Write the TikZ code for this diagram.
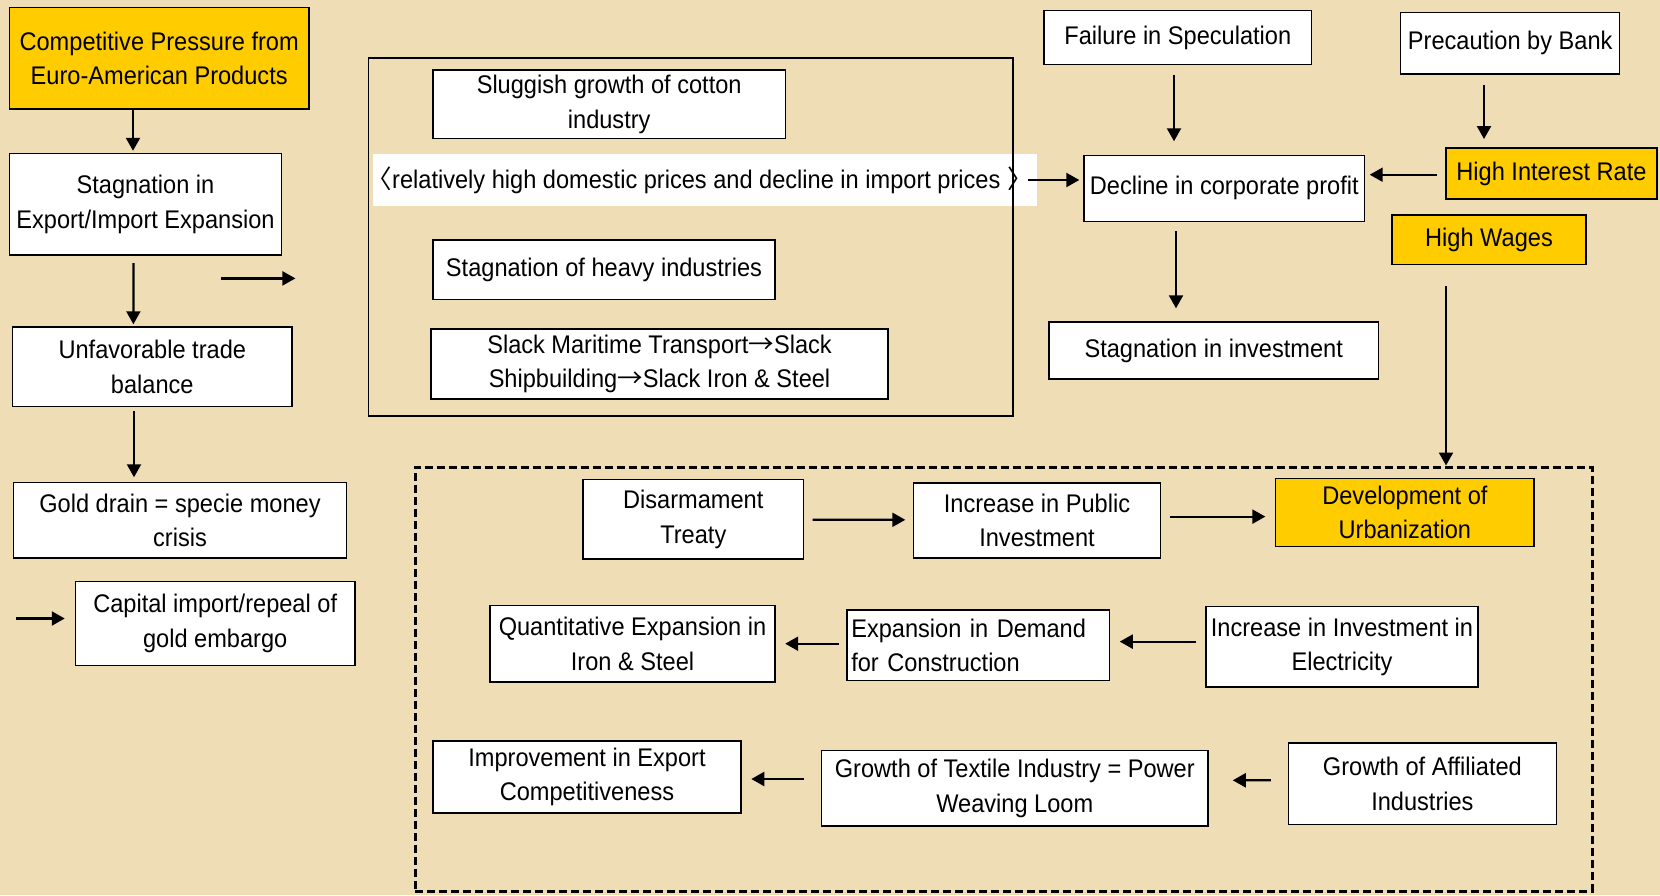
\documentclass[tikz,border=0pt]{standalone}
\usepackage{fontspec}
\setmainfont{Liberation Sans}[FakeStretch=0.925]
\newfontfamily\cjkfont{Noto Sans CJK JP}
\usetikzlibrary{arrows.meta}
\definecolor{bgc}{HTML}{EFDDB5}
\definecolor{ygold}{HTML}{FFCC00}
\begin{document}
\begin{tikzpicture}[x=1pt,y=-1pt,
  box/.style={draw=black, line width=1.4pt, fill=white, inner sep=0pt, align=center,
    font=\fontsize{25.5}{34.5}\selectfont},
  ybox/.style={box, fill=ygold},
  arr/.style={line width=2.2pt, -{Triangle[length=13pt,width=14pt]}},
]
\useasboundingbox (0,0) rectangle (1660,895);
\fill[bgc] (0,0) rectangle (1660,895);

% left column
\node[ybox, minimum width=299.5pt, minimum height=101.6pt] (comp) at (159.2,58.2) {Competitive Pressure from\\Euro-American Products};
\node[box, minimum width=272pt, minimum height=101.5pt] (stagEI) at (145.5,204.2) {Stagnation in\\Export/Import Expansion};
\node[box, minimum width=279.3pt, minimum height=79.5pt] (unfav) at (152.3,366.7) {Unfavorable trade\\balance};
\node[box, minimum width=332.5pt, minimum height=75.3pt] (gold) at (180,520.3) {Gold drain = specie money\\crisis};
\node[box, minimum width=279.5pt, minimum height=84pt] (capital) at (215.2,623.5) {Capital import/repeal of\\gold embargo};

\draw[arr] ([xshift=-26.2]comp.south) -- ([xshift=-12.5,yshift=2]stagEI.north);
\draw[arr] ([xshift=-12.1,yshift=-7.5]stagEI.south) -- ([xshift=-18.9,yshift=2]unfav.north);
\draw[arr] ([xshift=-18.3,yshift=-4]unfav.south) -- ([xshift=-46,yshift=4.7]gold.north);
\coordinate (f1s) at (221,278.4);
\coordinate (f1e) at (295.4,278.4);
\draw[arr] (f1s) -- (f1e);
\coordinate (f2s) at (16,618.5);
\draw[arr] (f2s) -- ([xshift=-10,yshift=5]capital.west);

% middle solid frame
\node[fill=white, inner sep=0pt, minimum width=663.8pt, minimum height=52.9pt,
  font=\fontsize{25.5}{34.5}\selectfont] (band) at (704.6,180)
  {\makebox[663.8pt][l]{\hspace{-6pt}{\cjkfont 〈}relatively high domestic prices and decline in import prices {\cjkfont 〉}}};
\node[draw=black, line width=1.8pt, minimum width=644.8pt, minimum height=357.8pt, inner sep=0pt] (sframe) at (690.8,237.1) {};
\node[box, minimum width=352.5pt, minimum height=68.7pt] (slug) at (609.2,104.3) {Sluggish growth of cotton\\industry};
\node[box, minimum width=342pt, minimum height=59.6pt] (heavy) at (604,269.8) {Stagnation of heavy industries};
\node[box, minimum width=457pt, minimum height=70pt] (slack) at (659.5,364) {Slack Maritime Transport{\cjkfont →}Slack\\Shipbuilding{\cjkfont →}Slack Iron \& Steel};

% right top
\node[box, minimum width=267.7pt, minimum height=54pt] (fail) at (1177.8,37.6) {Failure in Speculation};
\node[box, minimum width=219pt, minimum height=61.3pt] (prec) at (1510.2,43.3) {Precaution by Bank};
\node[box, minimum width=280.6pt, minimum height=65.7pt] (decl) at (1224.3,188.4) {Decline in corporate profit};
\node[ybox, minimum width=211pt, minimum height=51pt] (hir) at (1551.5,173.5) {High Interest Rate};
\node[ybox, minimum width=194pt, minimum height=49.7pt] (hw) at (1489,239.8) {High Wages};
\node[box, minimum width=329.4pt, minimum height=57.2pt] (stinv) at (1213.7,350.4) {Stagnation in investment};

\draw[arr] ([xshift=-8.5]band.east) -- ([xshift=-4,yshift=8.4]decl.west);
\draw[arr] ([xshift=-3.8,yshift=-9.4]fail.south) -- ([xshift=-50.3,yshift=13.6]decl.north);
\draw[arr] ([xshift=-26.2,yshift=-10.7]prec.south) -- ([xshift=-67.5,yshift=8.3]hir.north);
\draw[arr] ([xshift=-8.3,yshift=-1.2]hir.west) -- ([xshift=4.4,yshift=13.7]decl.east);
\draw[arr] ([xshift=-48.3,yshift=-9.5]decl.south) -- ([xshift=-37.7,yshift=12.8]stinv.north);

% dashed frame
\node[draw=black, line width=3pt, dash pattern=on 8pt off 4pt, minimum width=1177pt, minimum height=424pt, inner sep=0pt] (dframe) at (1003.5,679) {};
\draw[arr] ([xshift=-43,yshift=-21]hw.south) -- ([xshift=442.5]dframe.north);

\node[box, minimum width=220.6pt, minimum height=79.4pt] (disarm) at (693.3,519.3) {Disarmament\\Treaty};
\node[box, minimum width=246.6pt, minimum height=75.2pt] (pubinv) at (1037,520.4) {Increase in Public\\Investment};
\node[ybox, minimum width=258.3pt, minimum height=67.8pt] (urban) at (1404.9,512.4) {Development of\\Urbanization};
\node[box, minimum width=285pt, minimum height=76.2pt] (quant) at (632.5,643.7) {Quantitative Expansion in\\Iron \& Steel};
\node[box, minimum width=262.5pt, minimum height=70.9pt, text width=254pt, inner xsep=4pt, align=left] (demand) at (978.3,645.3) {Expansion in Demand\\for Construction};
\node[box, minimum width=272pt, minimum height=80.4pt] (elec) at (1342,646.8) {Increase in Investment in\\Electricity};
\node[box, minimum width=308pt, minimum height=72pt] (improve) at (587,777) {Improvement in Export\\Competitiveness};
\node[box, minimum width=386.5pt, minimum height=75.2pt] (textile) at (1014.8,788.2) {Growth of Textile Industry = Power\\Weaving Loom};
\node[box, minimum width=268pt, minimum height=81.7pt] (affil) at (1422.4,783.9) {Growth of Affiliated\\Industries};

\draw[arr] ([xshift=8.4,yshift=-0.5]disarm.east) -- ([xshift=-7.7,yshift=0.6]pubinv.west);
\draw[arr] ([xshift=8.5,yshift=3.8]pubinv.east) -- ([xshift=-9.7,yshift=-4.2]urban.west);
\draw[arr] ([xshift=-7.5,yshift=1.6]demand.west) -- ([xshift=9.5]quant.east);
\draw[arr] ([xshift=-8.9,yshift=5.2]elec.west) -- ([xshift=9.5,yshift=3.7]demand.east);
\draw[arr] ([xshift=-16.9,yshift=9.2]textile.west) -- ([xshift=9.6,yshift=-2]improve.east);
\draw[arr] ([xshift=-16.9,yshift=3.6]affil.west) -- ([xshift=24,yshift=7.9]textile.east);
\end{tikzpicture}
\end{document}
